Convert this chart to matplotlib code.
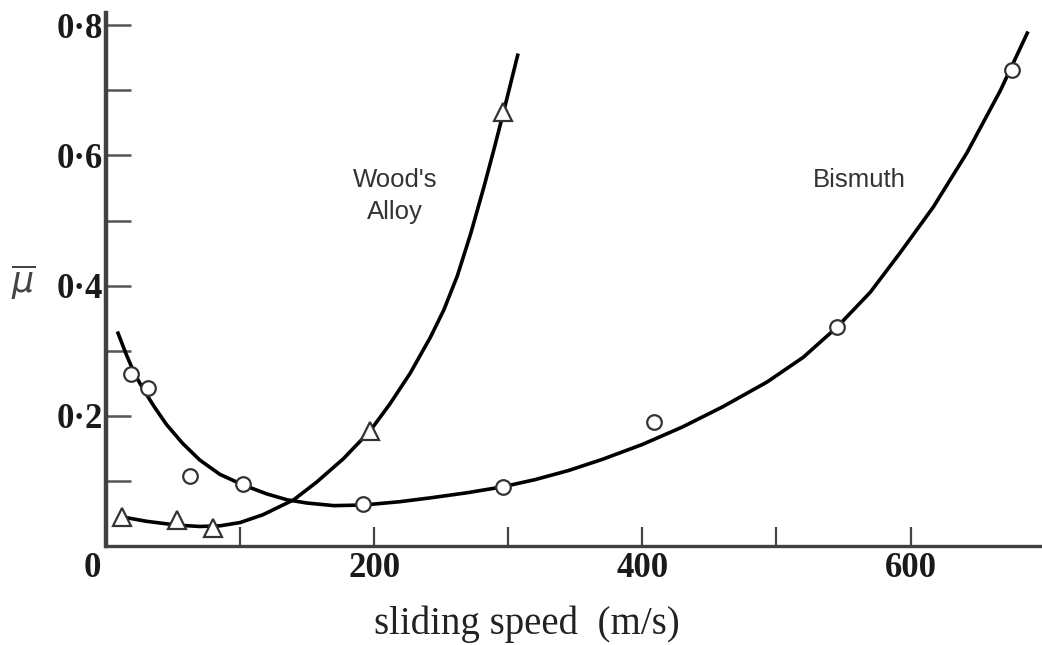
import matplotlib
matplotlib.use('Agg')
import matplotlib.pyplot as plt
import matplotlib.transforms as mtransforms

# measured points (sliding speed m/s, mean friction coefficient)
bismuth_speed = [19, 31, 63, 102, 192, 296, 409, 545, 676]
bismuth_mu = [0.264, 0.243, 0.108, 0.095, 0.064, 0.090, 0.190, 0.336, 0.731]

woods_speed = [12, 53, 80, 197, 296]
woods_mu = [0.045, 0.040, 0.027, 0.177, 0.667]

# hand-drawn fitted curves
bismuth_curve_x = [9, 15, 21, 28, 36, 45, 57, 70, 85, 102, 120, 135, 150, 170,
                   192, 219, 242, 270, 296, 320, 345, 370, 400, 430, 460, 493,
                   520, 545, 570, 592, 617, 642, 667, 687]
bismuth_curve_y = [0.327, 0.295, 0.266, 0.240, 0.214, 0.187, 0.158, 0.132,
                   0.110, 0.094, 0.080, 0.071, 0.066, 0.062, 0.063, 0.068,
                   0.074, 0.082, 0.091, 0.102, 0.116, 0.133, 0.156, 0.183,
                   0.214, 0.252, 0.290, 0.336, 0.390, 0.450, 0.521, 0.604,
                   0.700, 0.788]

woods_curve_x = [14, 30, 53, 70, 85, 100, 117, 140, 157, 177, 197, 212, 227,
                 242, 252, 262, 272, 282, 289, 296, 307]
woods_curve_y = [0.044, 0.038, 0.032, 0.030, 0.031, 0.036, 0.048, 0.071,
                 0.098, 0.134, 0.177, 0.219, 0.266, 0.321, 0.363, 0.415,
                 0.480, 0.553, 0.607, 0.663, 0.754]

x_ticks = [0, 100, 200, 300, 400, 500, 600]
x_ticklabels = ['0', '', '200', '', '400', '', '600']
y_ticks = [0.1, 0.2, 0.3, 0.4, 0.5, 0.6, 0.7, 0.8]
y_ticklabels = ['', '0·2', '', '0·4', '', '0·6', '', '0·8']

serif = ['Liberation Serif', 'DejaVu Serif']
sans = ['Liberation Sans', 'DejaVu Sans']

fig = plt.figure(figsize=(10.42, 6.45), dpi=100)
ax = fig.add_axes([0.1017, 0.1535, 0.8983, 0.8264])

# curves
ax.plot(bismuth_curve_x, bismuth_curve_y, color='black', linewidth=2.6,
        solid_joinstyle='round', zorder=2)
ax.plot(woods_curve_x, woods_curve_y, color='black', linewidth=2.6,
        solid_joinstyle='round', zorder=2)

# data points
ax.plot(bismuth_speed, bismuth_mu, linestyle='none', marker='o', markersize=10.5,
        markerfacecolor='white', markeredgecolor='#333333', markeredgewidth=1.6,
        zorder=3)
ax.plot(woods_speed, woods_mu, linestyle='none', marker='^', markersize=13.5,
        markerfacecolor='white', markeredgecolor='#333333', markeredgewidth=1.6,
        zorder=3)

ax.set_xlim(0, 698)
ax.set_ylim(0, 0.819)

# spines
for side in ['top', 'right']:
    ax.spines[side].set_visible(False)
ax.spines['left'].set_linewidth(3.2)
ax.spines['left'].set_color('#404040')
ax.spines['bottom'].set_linewidth(2.4)
ax.spines['bottom'].set_color('#404040')

# ticks
ax.set_xticks(x_ticks)
ax.set_xticklabels(x_ticklabels, fontfamily=serif, fontsize=25, fontweight='bold')
ax.set_yticks(y_ticks)
ax.set_yticklabels(y_ticklabels, fontfamily=serif, fontsize=25, fontweight='bold')
ax.tick_params(axis='x', direction='in', length=14, width=1.6, colors='#444444',
               labelcolor='#1a1a1a', pad=4)
ax.tick_params(axis='y', direction='in', length=18, width=1.8, colors='#555555',
               labelcolor='#1a1a1a', pad=2)

# the "0" sits left of the axis corner
shift = mtransforms.ScaledTranslation(-0.14, 0, fig.dpi_scale_trans)
lbl0 = ax.get_xticklabels()[0]
lbl0.set_transform(lbl0.get_transform() + shift)

# axis labels
ax.set_xlabel('sliding speed  (m/s)', fontfamily=serif, fontsize=28,
              color='#222222')
ax.xaxis.set_label_coords(0.45, -0.112)
ax.set_ylabel(r'$\overline{\mu}$', fontsize=25, rotation=0, color='#444444')
ax.yaxis.set_label_coords(-0.088, 0.46)

# curve annotations
ax.text(215.7, 0.551, "Wood's", fontfamily=sans, fontsize=18.5, color='#333333',
        ha='center', va='baseline')
ax.text(215.7, 0.502, 'Alloy', fontfamily=sans, fontsize=18.5, color='#333333',
        ha='center', va='baseline')
ax.text(562, 0.551, 'Bismuth', fontfamily=sans, fontsize=18.5, color='#333333',
        ha='center', va='baseline')

plt.savefig('out.png', dpi=100)
